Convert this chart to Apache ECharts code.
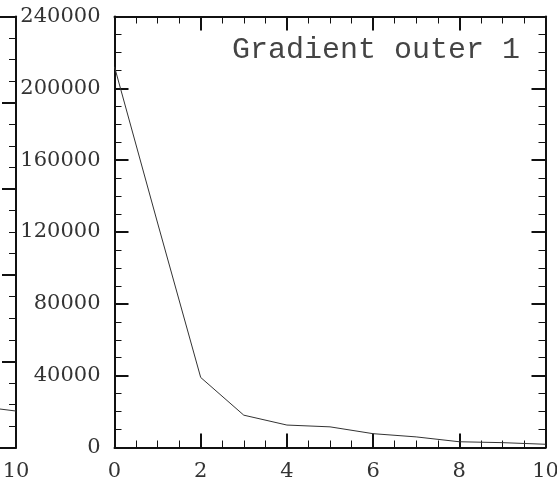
<!DOCTYPE html>
<html>
<head>
<meta charset="utf-8">
<script src="https://cdn.jsdelivr.net/npm/echarts@6/dist/echarts.min.js"></script>
<style>
  html, body { margin: 0; padding: 0; background: #fff; }
  #chart { width: 557px; height: 483px; }
</style>
</head>
<body>
<div id="chart"></div>
<script>
// main panel: gradient outer 1
var xValues = [0, 1, 2, 3, 4, 5, 6, 7, 8, 9, 10];
var gradValues = [212000, 125000, 39000, 18000, 12500, 11500, 7700, 5900, 3200, 2700, 1800];
// right end of the neighbouring (cut off) panel
var leftX = [9, 10];
var leftValues = [4860, 4230];

var yTicks = [0, 240000, 40000];   // min, max, step
var xTicks = [0, 10, 2];

var chart = echarts.init(document.getElementById('chart'));

var labelFont = 'DejaVu Serif';
var ink = '#111';

function plain(v) { return String(v); }

function xAxisCfg(grid, pos, showLabel) {
    return {
        type: 'value', gridIndex: grid, position: pos,
        min: xTicks[0], max: xTicks[1], interval: xTicks[2],
        axisLine: { show: true, onZero: false, lineStyle: { color: ink, width: 2 } },
        axisTick: { show: true, inside: true, length: 14, lineStyle: { color: ink, width: 2 } },
        minorTick: { show: true, splitNumber: 4, length: 7, lineStyle: { color: ink, width: 1 } },
        axisLabel: { show: showLabel, margin: 14, fontFamily: labelFont, fontSize: 21, color: '#333', formatter: plain },
        splitLine: { show: false }
    };
}

function yAxisCfg(grid, pos, showLabel, min, max, step) {
    return {
        type: 'value', gridIndex: grid, position: pos,
        min: min, max: max, interval: step,
        axisLine: { show: true, onZero: false, lineStyle: { color: ink, width: 2 } },
        axisTick: { show: true, inside: true, length: 14, lineStyle: { color: ink, width: 2 } },
        minorTick: { show: true, splitNumber: 4, length: 7, lineStyle: { color: ink, width: 1 } },
        axisLabel: { show: showLabel, margin: 14, fontFamily: labelFont, fontSize: 21, color: '#333', formatter: plain },
        splitLine: { show: false }
    };
}

var option = {
    animation: false,
    backgroundColor: '#fff',
    title: {
        text: 'Gradient outer 1',
        right: 32, top: 30,
        textStyle: { fontFamily: 'Liberation Mono', fontSize: 30, fontWeight: 'normal', color: '#444' }
    },
    grid: [
        { left: 114.5, top: 16.5, width: 431, height: 431, containLabel: false, outerBoundsMode: 'none' },
        { left: -415, top: 16.5, width: 431, height: 431, containLabel: false, outerBoundsMode: 'none' }
    ],
    xAxis: [
        xAxisCfg(0, 'bottom', true),
        xAxisCfg(0, 'top', false),
        xAxisCfg(1, 'bottom', true),
        xAxisCfg(1, 'top', false)
    ],
    yAxis: [
        yAxisCfg(0, 'left', true, yTicks[0], yTicks[1], yTicks[2]),
        yAxisCfg(0, 'right', false, yTicks[0], yTicks[1], yTicks[2]),
        yAxisCfg(1, 'right', false, 0, 50000, 10000)
    ],
    series: [
        {
            type: 'line', xAxisIndex: 0, yAxisIndex: 0,
            data: xValues.map(function (x, i) { return [x, gradValues[i]]; }),
            showSymbol: false,
            lineStyle: { color: '#333', width: 1 }
        },
        {
            type: 'line', xAxisIndex: 2, yAxisIndex: 2,
            data: leftX.map(function (x, i) { return [x, leftValues[i]]; }),
            showSymbol: false,
            lineStyle: { color: '#333', width: 1 }
        }
    ]
};

chart.setOption(option);
</script>
</body>
</html>
